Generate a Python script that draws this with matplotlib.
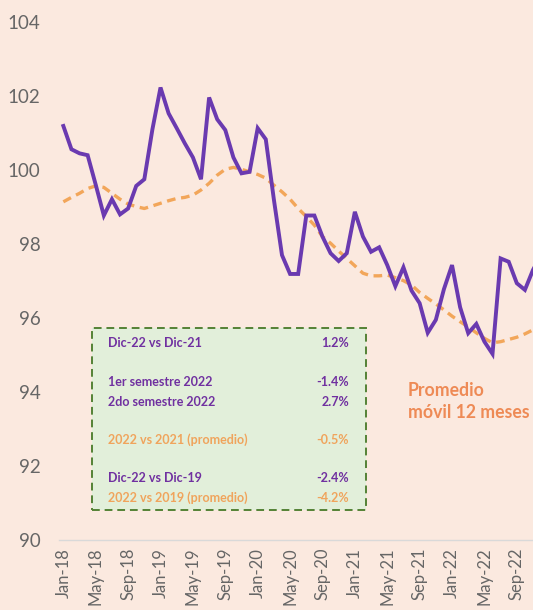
import numpy as np
import matplotlib
matplotlib.use('Agg')
import matplotlib.pyplot as plt
from matplotlib.patches import Rectangle

plt.rcParams['font.family'] = ['Lato', 'DejaVu Sans']

# monthly index, Jan-18 .. Dec-22
months = ['Jan', 'Feb', 'Mar', 'Apr', 'May', 'Jun', 'Jul', 'Aug', 'Sep', 'Oct', 'Nov', 'Dec']
years = ['18', '19', '20', '21', '22']
labels = [m + '-' + y for y in years for m in months]

index_val = [101.19, 100.56, 100.45, 100.40, 99.60, 98.77, 99.21, 98.80, 98.96, 99.57, 99.75, 101.10,
             102.23, 101.53, 101.13, 100.72, 100.34, 99.75, 101.96, 101.37, 101.08, 100.34, 99.91, 99.95,
             101.13, 100.83, 99.20, 97.70, 97.19, 97.19, 98.77, 98.77, 98.20, 97.75, 97.54, 97.75,
             98.87, 98.20, 97.79, 97.91, 97.43, 96.86, 97.37, 96.74, 96.40, 95.60, 95.95, 96.78,
             97.43, 96.29, 95.59, 95.84, 95.36, 95.03, 97.61, 97.52, 96.94, 96.76, 97.30, 97.70]

mov_avg = [99.14, 99.26, 99.37, 99.50, 99.57, 99.53, 99.37, 99.21, 99.08, 99.01, 98.96, 99.03,
           99.10, 99.17, 99.23, 99.26, 99.32, 99.46, 99.64, 99.86, 100.02, 100.07, 100.02, 99.95,
           99.88, 99.78, 99.59, 99.41, 99.21, 98.96, 98.74, 98.51, 98.20, 98.02, 97.81, 97.61,
           97.41, 97.21, 97.14, 97.14, 97.16, 97.09, 97.01, 96.89, 96.69, 96.53, 96.38, 96.22,
           96.05, 95.90, 95.76, 95.60, 95.45, 95.33, 95.36, 95.42, 95.48, 95.57, 95.68, 95.80]

box_rows = ['Dic-22 vs Dic-21', '1er semestre 2022', '2do semestre 2022',
            '2022 vs 2021 (promedio)', 'Dic-22 vs Dic-19', '2022 vs 2019 (promedio)']
box_vals = ['1.2%', '-1.4%', '2.7%', '-0.5%', '-2.4%', '-4.2%']
box_kind = ['m', 'm', 'm', 'a', 'm', 'a']

bg = '#FBE9DF'
purple = '#6A3AB0'
orange = '#F2A65A'
txt_purple = '#7030A0'
txt_orange = '#F0A45C'

W, H = 533, 610
fig = plt.figure(figsize=(W / 100, H / 100), dpi=100, facecolor=bg)
ax = fig.add_axes([59.3 / W, 70 / H, (W - 59.3) / W, 518 / H])
ax.set_facecolor(bg)

x = np.arange(len(index_val))
ax.plot(x, index_val, color=purple, lw=2.8, solid_joinstyle='miter', zorder=3)
ax.plot(x, mov_avg, color=orange, lw=2.4, dashes=(2.6, 1.7), zorder=2)

ax.set_xlim(-0.5, 58.0)
ax.set_ylim(90, 104)
ax.set_yticks(range(90, 105, 2))
ax.set_xticks(x[::4])
ax.set_xticklabels(labels[::4], rotation=90, fontsize=12, color='#666666')
ax.tick_params(axis='y', length=0, pad=13.5, labelsize=13.5, labelcolor='#666666')
ax.tick_params(axis='x', length=0, pad=5.5)
for s in ['top', 'right', 'left']:
    ax.spines[s].set_visible(False)
ax.spines['bottom'].set_color('#D9D9D9')
ax.spines['bottom'].set_linewidth(1)

# summary box
def fx(px):
    return px / W

def fy(py):
    return 1 - py / H

fig.patches.append(Rectangle((fx(92), fy(510)), (366 - 92) / W, (510 - 328) / H,
                             transform=fig.transFigure, facecolor='#E2EFDA',
                             edgecolor='#548235', linestyle=(0, (4, 2.5)), lw=1.4, zorder=5))
row_y = [343, 382, 402, 440, 478, 498]
for lab, val, k, yy in zip(box_rows, box_vals, box_kind, row_y):
    c = txt_purple if k == 'm' else txt_orange
    fig.text(fx(108), fy(yy), lab, color=c, fontsize=9, fontweight='bold', va='center', ha='left', zorder=6)
    fig.text(fx(349), fy(yy), val, color=c, fontsize=9, fontweight='bold', va='center', ha='right', zorder=6)

fig.text(fx(408), fy(391), 'Promedio', color='#EE8A55', fontsize=12.7, fontweight='bold', va='center', ha='left')
fig.text(fx(408), fy(413), 'móvil 12 meses', color='#EE8A55', fontsize=12.7, fontweight='bold', va='center', ha='left')

fig.savefig('out.png', dpi=100, facecolor=bg)
